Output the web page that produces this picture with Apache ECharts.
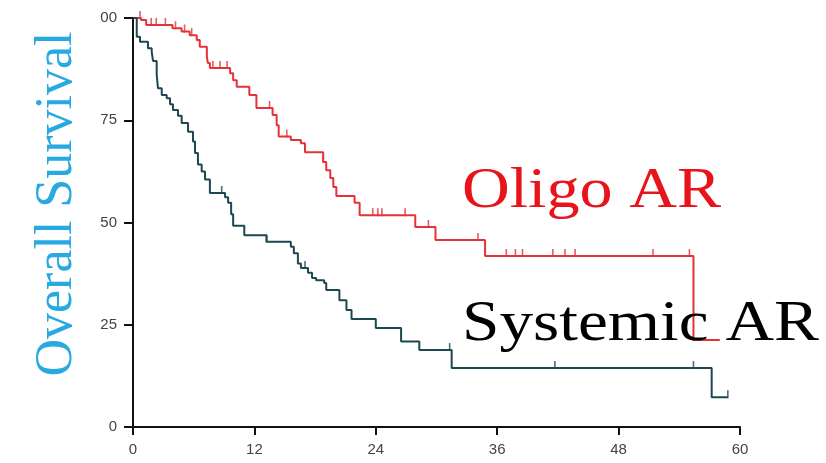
<!DOCTYPE html>
<html>
<head>
<meta charset="utf-8">
<script src="https://cdn.jsdelivr.net/npm/echarts@6/dist/echarts.min.js"></script>
<style>
  html, body { margin: 0; padding: 0; background: #fff; }
  #chart { width: 826px; height: 463px; }
</style>
</head>
<body>
<div id="chart"></div>
<script>
// Kaplan-Meier overall survival, months on x, percent surviving on y

// Oligo AR: event times (months) and survival after each event (%)
const oligoTimes = [0, 0.8, 1.3, 3.9, 4.8, 5.6, 6.3, 6.6, 7.3, 7.4, 7.6, 9.6, 9.9, 10.25, 11.5, 12.2, 13.8, 14.2, 14.4, 15.6, 16.6, 17.0, 18.8, 19.1, 19.5, 19.8, 20.1, 21.9, 22.4, 27.9, 29.9, 34.8, 55.4, 58.0];
const oligoSurv  = [100, 99.5, 98.3, 97.5, 96.7, 95.8, 94.6, 93.0, 90.5, 89.0, 87.8, 86.5, 84.8, 83.2, 81.2, 78.0, 76.3, 73.8, 71.0, 70.2, 69.4, 67.2, 64.8, 62.8, 60.9, 58.7, 56.5, 54.8, 51.8, 48.9, 45.7, 41.8, 21.3, 21.3];
const oligoCensored = [0.7, 1.8, 2.3, 3.2, 4.2, 5.1, 5.8, 7.9, 8.6, 9.3, 13.5, 15.2, 18.8, 23.7, 24.2, 24.6, 26.9, 29.2, 34.1, 36.9, 37.8, 38.5, 41.5, 42.7, 43.7, 51.4, 55.0];

// Systemic AR: event times (months) and survival after each event (%)
const systemicTimes = [0, 0.37, 0.69, 1.48, 1.85, 1.98, 2.34, 2.47, 2.84, 3.33, 3.66, 3.95, 4.45, 4.81, 5.44, 5.93, 6.13, 6.42, 6.79, 7.12, 7.6, 9.1, 9.4, 9.7, 9.9, 11.0, 13.2, 15.6, 15.9, 16.3, 16.6, 17.3, 17.7, 18.1, 18.9, 19.1, 20.4, 21.1, 21.6, 24.0, 26.5, 28.3, 31.5, 57.2, 58.8];
const systemicSurv  = [100, 95.4, 94.2, 92.6, 91.7, 89.5, 86.2, 82.8, 81.2, 80.4, 78.9, 77.5, 76.1, 74.3, 72.2, 69.8, 67.0, 64.2, 62.5, 60.5, 57.2, 56.2, 54.8, 52.0, 49.2, 46.9, 45.3, 44.1, 42.5, 40.0, 38.9, 37.7, 36.4, 35.9, 35.2, 33.5, 31.0, 28.6, 26.4, 24.2, 20.9, 18.8, 14.4, 7.3, 7.3];
const systemicCensored = [8.77, 13.2, 17.0, 31.3, 41.7, 55.4, 58.8];

// Axis ticks
const xTicks = [0, 12, 24, 36, 48, 60];
const yTicks = [0, 25, 50, 75, 100];
const yTickLabels = ['0', '25', '50', '75', '00'];

const OLIGO_COLOR = '#e53238';
const SYSTEMIC_COLOR = '#1d4852';
const SERIF = '"Liberation Serif", "DejaVu Serif", serif';

function survivalAt(times, surv, t) {
  let s = surv[0];
  for (let i = 0; i < times.length; i++) {
    if (times[i] <= t) s = surv[i];
  }
  return s;
}

function curve(times, surv) {
  return times.map((t, i) => [t, surv[i]]);
}

function censorMarks(times, surv, cens) {
  return cens.map(t => [t, survivalAt(times, surv, t)]);
}

const chart = echarts.init(document.getElementById('chart'), null, { renderer: 'canvas' });

const axisLabelStyle = { color: '#444', fontSize: 15, fontFamily: '"Liberation Sans", Arial, sans-serif' };

chart.setOption({
  animation: false,
  backgroundColor: '#fff',
  grid: { left: 133, right: 86, top: 18, bottom: 36 },
  xAxis: {
    type: 'value',
    min: xTicks[0],
    max: xTicks[xTicks.length - 1],
    interval: xTicks[1] - xTicks[0],
    splitLine: { show: false },
    axisLine: { lineStyle: { color: '#111', width: 2 } },
    axisTick: { length: 8, lineStyle: { color: '#111', width: 2 } },
    axisLabel: Object.assign({ margin: 15 }, axisLabelStyle)
  },
  yAxis: {
    type: 'value',
    min: yTicks[0],
    max: yTicks[yTicks.length - 1],
    interval: yTicks[1] - yTicks[0],
    splitLine: { show: false },
    axisLine: { lineStyle: { color: '#111', width: 2 } },
    axisTick: { length: 9, lineStyle: { color: '#111', width: 2 } },
    axisLabel: Object.assign({
      margin: 16,
      formatter: v => yTickLabels[yTicks.indexOf(v)]
    }, axisLabelStyle)
  },
  series: [
    {
      type: 'line',
      step: 'end',
      showSymbol: false,
      data: curve(oligoTimes, oligoSurv),
      lineStyle: { color: OLIGO_COLOR, width: 2 },
      z: 3
    },
    {
      type: 'scatter',
      symbol: 'rect',
      symbolSize: [1.6, 8],
      symbolOffset: [0, -3],
      data: censorMarks(oligoTimes, oligoSurv, oligoCensored),
      itemStyle: { color: OLIGO_COLOR },
      z: 3
    },
    {
      type: 'line',
      step: 'end',
      showSymbol: false,
      data: curve(systemicTimes, systemicSurv),
      lineStyle: { color: SYSTEMIC_COLOR, width: 2 },
      z: 4
    },
    {
      type: 'scatter',
      symbol: 'rect',
      symbolSize: [1.6, 8],
      symbolOffset: [0, -3],
      data: censorMarks(systemicTimes, systemicSurv, systemicCensored),
      itemStyle: { color: SYSTEMIC_COLOR },
      z: 4
    }
  ],
  graphic: [
    {
      type: 'text',
      x: 57, y: 204,
      rotation: Math.PI / 2,
      style: {
        text: 'Overall Survival',
        fill: '#29a9e1',
        font: '52px ' + SERIF,
        textAlign: 'center',
        textVerticalAlign: 'middle'
      }
    },
    {
      type: 'text',
      x: 462, y: 164,
      scaleX: 1.16,
      style: {
        text: 'Oligo AR',
        fill: '#e8141c',
        font: '57px ' + SERIF,
        textAlign: 'left',
        textVerticalAlign: 'top'
      },
      z: 10
    },
    {
      type: 'text',
      x: 462, y: 297,
      scaleX: 1.18,
      style: {
        text: 'Systemic AR',
        fill: '#000',
        font: '57px ' + SERIF,
        textAlign: 'left',
        textVerticalAlign: 'top'
      },
      z: 10
    }
  ]
});
</script>
</body>
</html>
